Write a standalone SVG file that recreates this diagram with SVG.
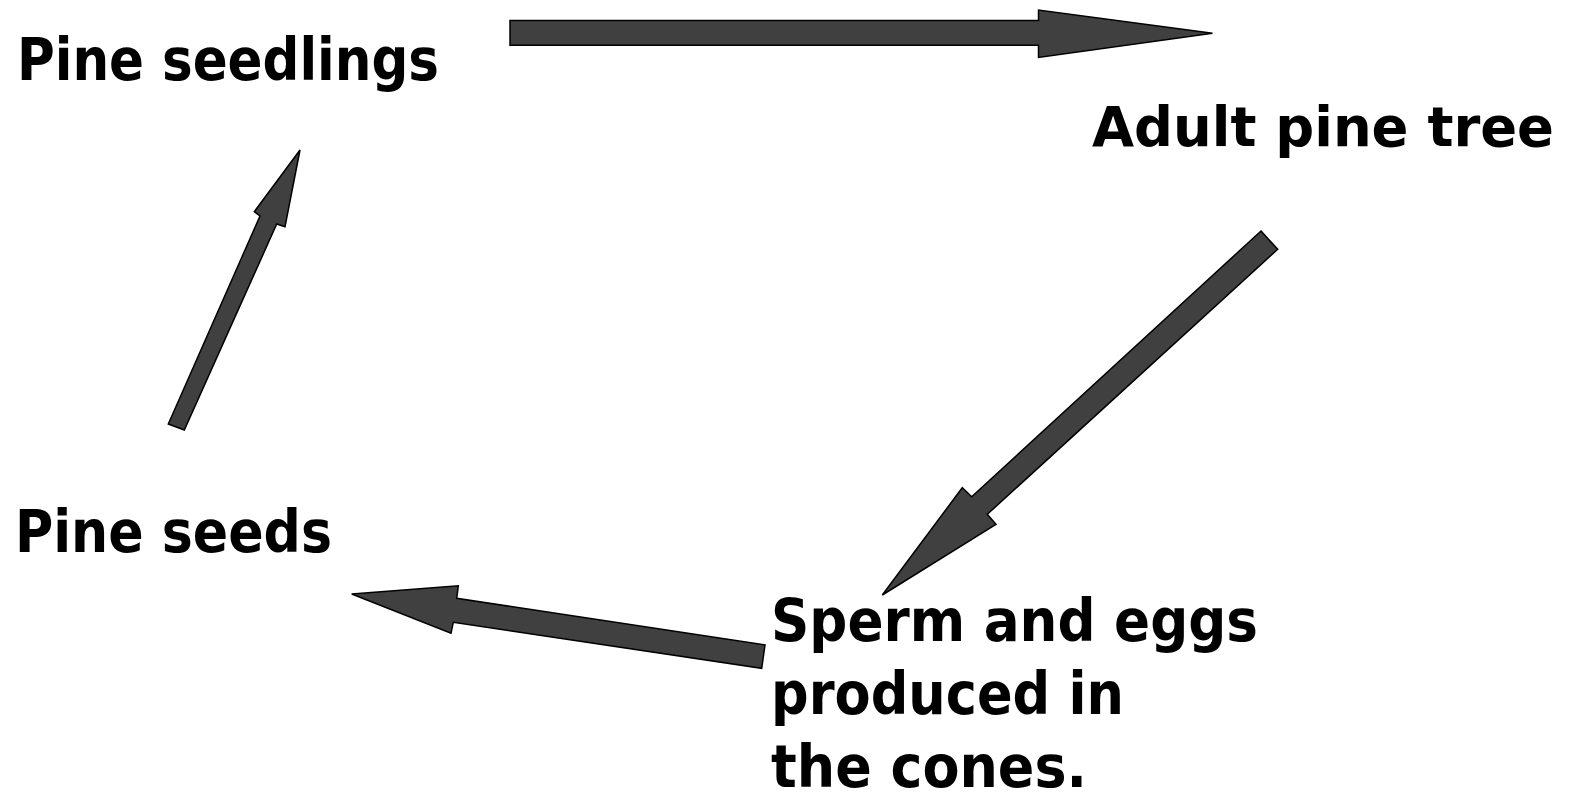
<svg xmlns="http://www.w3.org/2000/svg" width="1578" height="801" viewBox="0 0 1578 801">
<style>
.lbl{font-family:"DejaVu Sans","Liberation Sans",sans-serif;font-weight:bold;font-size:58px;fill:#000}
.arr{fill:#404040;stroke:#000;stroke-width:1.5;stroke-linejoin:miter}
</style>
<rect width="1578" height="801" fill="#fff"/>
<g id="connectors">
<polygon class="arr" points="510,20.5 1038.5,20.5 1038.5,10 1212.5,33.2 1038.5,57.4 1038.5,45.3 510,45.3"/>
<polygon class="arr" points="1261,231 1277.7,249.3 987.3,514.3 996,524.3 882.3,595 962.3,487.7 971.7,496.7"/>
<polygon class="arr" points="184.3,430 168.3,424 260,216 254.3,211.7 300,150 285,226.7 276.7,224"/>
<polygon class="arr" points="765,645 761.7,668.3 453.3,622.3 451,633.3 351.7,594 458.3,585.7 456.7,598.3"/>
</g>
<g id="node-seedlings"><text class="lbl" x="17" y="80" textLength="422" lengthAdjust="spacingAndGlyphs">Pine seedlings</text></g>
<g id="node-adult"><text class="lbl" x="1092" y="146" style="font-size:55px" textLength="462" lengthAdjust="spacingAndGlyphs">Adult pine tree</text></g>
<g id="node-seeds"><text class="lbl" x="15" y="552" textLength="317" lengthAdjust="spacingAndGlyphs">Pine seeds</text></g>
<g id="node-sperm">
<text class="lbl" x="771" y="641" textLength="487" lengthAdjust="spacingAndGlyphs">Sperm and eggs</text>
<text class="lbl" x="771" y="714" textLength="353" lengthAdjust="spacingAndGlyphs">produced in</text>
<text class="lbl" x="771" y="787" textLength="316" lengthAdjust="spacingAndGlyphs">the cones.</text>
</g>
</svg>
